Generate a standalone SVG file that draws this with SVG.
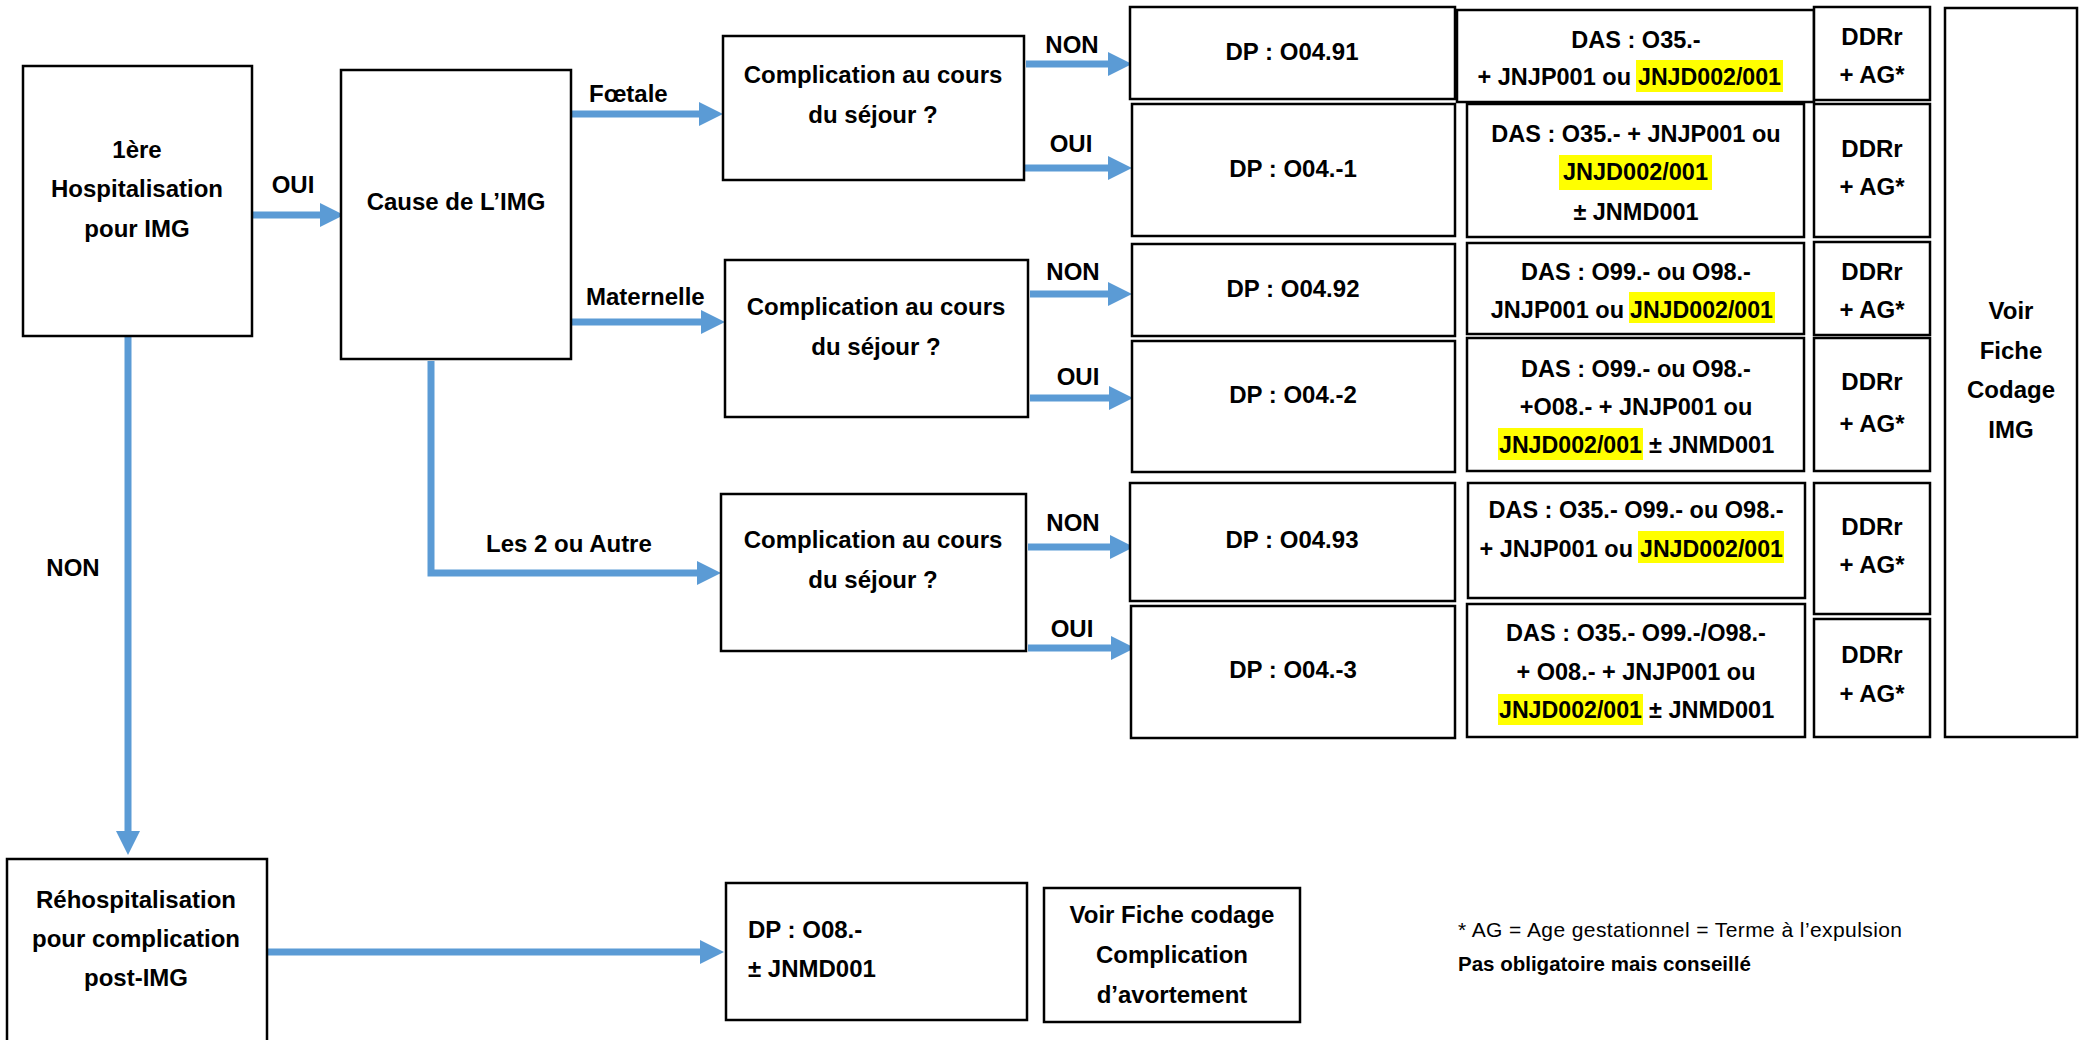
<svg xmlns="http://www.w3.org/2000/svg" width="2083" height="1040" viewBox="0 0 2083 1040">
  <style>
    .t { font-family: "Liberation Sans", Arial, sans-serif; font-weight: bold; font-size: 24px; fill: #000; }
    .s { font-size: 23.5px; }
    .c { text-anchor: middle; }
    .e { text-anchor: end; }
    .box { fill: #fff; stroke: #000; stroke-width: 2.5; }
    .hl { fill: #ffff00; }
    .arr { fill: none; stroke: #5b9bd5; stroke-width: 7; stroke-linejoin: miter; }
    .note { font-family: "Liberation Sans", Arial, sans-serif; font-size: 21px; fill: #000; }
    .noteb { font-family: "Liberation Sans", Arial, sans-serif; font-size: 20.5px; font-weight: bold; fill: #000; }
  </style>
  <defs>
    <marker id="head" markerUnits="userSpaceOnUse" markerWidth="24" markerHeight="24" refX="0" refY="12" orient="auto">
      <path d="M0,0 L24,12 L0,24 Z" fill="#5b9bd5"/>
    </marker>
  </defs>
  <rect width="2083" height="1040" fill="#fff"/>

  <!-- connectors -->
  <g id="connectors">
    <path class="arr" marker-end="url(#head)" d="M251,215 H320"/>
    <path class="arr" marker-end="url(#head)" d="M572,114 H699"/>
    <path class="arr" marker-end="url(#head)" d="M572,322 H701"/>
    <path class="arr" marker-end="url(#head)" d="M431,361 V573 H697"/>
    <path class="arr" marker-end="url(#head)" d="M128,336 V831"/>
    <path class="arr" marker-end="url(#head)" d="M267,952 H700"/>
    <path class="arr" marker-end="url(#head)" d="M1026,64 H1108"/>
    <path class="arr" marker-end="url(#head)" d="M1025,168 H1108"/>
    <path class="arr" marker-end="url(#head)" d="M1030,294 H1108"/>
    <path class="arr" marker-end="url(#head)" d="M1030,398 H1109"/>
    <path class="arr" marker-end="url(#head)" d="M1028,547 H1110"/>
    <path class="arr" marker-end="url(#head)" d="M1028,648 H1111"/>

    <text class="t c" x="293" y="193">OUI</text>
    <text class="t" x="589" y="102">Fœtale</text>
    <text class="t" x="586" y="305">Maternelle</text>
    <text class="t" x="486" y="552">Les 2 ou Autre</text>
    <text class="t c" x="73" y="576">NON</text>
    <text class="t c" x="1072" y="53">NON</text>
    <text class="t c" x="1071" y="152">OUI</text>
    <text class="t c" x="1073" y="280">NON</text>
    <text class="t c" x="1078" y="385">OUI</text>
    <text class="t c" x="1073" y="531">NON</text>
    <text class="t c" x="1072" y="637">OUI</text>
  </g>

  <!-- first stay -->
  <g id="n-hosp">
    <rect class="box" x="23" y="66" width="229" height="270"/>
    <text class="t c" x="137" y="158">1ère</text>
    <text class="t c" x="137" y="197">Hospitalisation</text>
    <text class="t c" x="137" y="237">pour IMG</text>
  </g>

  <g id="n-cause">
    <rect class="box" x="341" y="70" width="230" height="289"/>
    <text class="t c" x="456" y="210">Cause de L’IMG</text>
  </g>

  <!-- complication questions -->
  <g id="n-comp1">
    <rect class="box" x="723" y="36" width="301" height="144"/>
    <text class="t c" x="873" y="83">Complication au cours</text>
    <text class="t c" x="873" y="123">du séjour ?</text>
  </g>
  <g id="n-comp2">
    <rect class="box" x="725" y="260" width="303" height="157"/>
    <text class="t c" x="876" y="315">Complication au cours</text>
    <text class="t c" x="876" y="355">du séjour ?</text>
  </g>
  <g id="n-comp3">
    <rect class="box" x="721" y="494" width="305" height="157"/>
    <text class="t c" x="873" y="548">Complication au cours</text>
    <text class="t c" x="873" y="588">du séjour ?</text>
  </g>

  <!-- principal diagnoses -->
  <g id="n-dp1">
    <rect class="box" x="1130" y="7" width="325" height="92"/>
    <text class="t c" x="1292" y="60">DP : O04.91</text>
  </g>
  <g id="n-dp2">
    <rect class="box" x="1132" y="104" width="323" height="132"/>
    <text class="t c" x="1293" y="177">DP : O04.-1</text>
  </g>
  <g id="n-dp3">
    <rect class="box" x="1132" y="244" width="323" height="92"/>
    <text class="t c" x="1293" y="297">DP : O04.92</text>
  </g>
  <g id="n-dp4">
    <rect class="box" x="1132" y="341" width="323" height="131"/>
    <text class="t c" x="1293" y="403">DP : O04.-2</text>
  </g>
  <g id="n-dp5">
    <rect class="box" x="1130" y="483" width="325" height="118"/>
    <text class="t c" x="1292" y="548">DP : O04.93</text>
  </g>
  <g id="n-dp6">
    <rect class="box" x="1131" y="606" width="324" height="132"/>
    <text class="t c" x="1293" y="678">DP : O04.-3</text>
  </g>

  <!-- associated diagnoses and acts -->
  <g id="n-das1">
    <rect class="box" x="1457" y="10" width="357" height="92"/>
    <text class="t s c" x="1636" y="48">DAS : O35.-</text>
    <rect class="hl" x="1636" y="60" width="147" height="32"/>
    <text class="t s e" x="1631" y="85">+ JNJP001 ou</text>
    <text class="t s" x="1638" y="85" textLength="143" lengthAdjust="spacingAndGlyphs">JNJD002/001</text>
  </g>
  <g id="n-das2">
    <rect class="box" x="1467" y="104" width="337" height="133"/>
    <text class="t s c" x="1636" y="142">DAS : O35.- + JNJP001 ou</text>
    <rect class="hl" x="1559" y="155" width="153" height="35"/>
    <text class="t s" x="1563" y="180" textLength="145" lengthAdjust="spacingAndGlyphs">JNJD002/001</text>
    <text class="t s c" x="1636" y="220">± JNMD001</text>
  </g>
  <g id="n-das3">
    <rect class="box" x="1467" y="243" width="337" height="91"/>
    <text class="t s c" x="1636" y="280">DAS : O99.- ou O98.-</text>
    <rect class="hl" x="1629" y="292" width="146" height="31"/>
    <text class="t s e" x="1624" y="318">JNJP001 ou</text>
    <text class="t s" x="1630" y="318" textLength="143" lengthAdjust="spacingAndGlyphs">JNJD002/001</text>
  </g>
  <g id="n-das4">
    <rect class="box" x="1467" y="338" width="337" height="133"/>
    <text class="t s c" x="1636" y="377">DAS : O99.- ou O98.-</text>
    <text class="t s c" x="1636" y="415">+O08.- + JNJP001 ou</text>
    <rect class="hl" x="1498" y="428" width="145" height="32"/>
    <text class="t s" x="1499" y="453" textLength="143" lengthAdjust="spacingAndGlyphs">JNJD002/001</text>
    <text class="t s" x="1649" y="453">± JNMD001</text>
  </g>
  <g id="n-das5">
    <rect class="box" x="1468" y="483" width="337" height="115"/>
    <text class="t s c" x="1636" y="518">DAS : O35.- O99.- ou O98.-</text>
    <rect class="hl" x="1638" y="531" width="146" height="32"/>
    <text class="t s e" x="1633" y="557">+ JNJP001 ou</text>
    <text class="t s" x="1640" y="557" textLength="143" lengthAdjust="spacingAndGlyphs">JNJD002/001</text>
  </g>
  <g id="n-das6">
    <rect class="box" x="1467" y="604" width="338" height="133"/>
    <text class="t s c" x="1636" y="641">DAS : O35.- O99.-/O98.-</text>
    <text class="t s c" x="1636" y="680">+ O08.- + JNJP001 ou</text>
    <rect class="hl" x="1498" y="694" width="145" height="31"/>
    <text class="t s" x="1499" y="718" textLength="143" lengthAdjust="spacingAndGlyphs">JNJD002/001</text>
    <text class="t s" x="1649" y="718">± JNMD001</text>
  </g>

  <!-- DDRr + AG -->
  <g id="n-ddr1">
    <rect class="box" x="1814" y="7" width="116" height="93"/>
    <text class="t c" x="1872" y="45">DDRr</text>
    <text class="t c" x="1872" y="83">+ AG*</text>
  </g>
  <g id="n-ddr2">
    <rect class="box" x="1814" y="104" width="116" height="133"/>
    <text class="t c" x="1872" y="157">DDRr</text>
    <text class="t c" x="1872" y="195">+ AG*</text>
  </g>
  <g id="n-ddr3">
    <rect class="box" x="1814" y="242" width="116" height="93"/>
    <text class="t c" x="1872" y="280">DDRr</text>
    <text class="t c" x="1872" y="318">+ AG*</text>
  </g>
  <g id="n-ddr4">
    <rect class="box" x="1814" y="338" width="116" height="133"/>
    <text class="t c" x="1872" y="390">DDRr</text>
    <text class="t c" x="1872" y="432">+ AG*</text>
  </g>
  <g id="n-ddr5">
    <rect class="box" x="1814" y="483" width="116" height="131"/>
    <text class="t c" x="1872" y="535">DDRr</text>
    <text class="t c" x="1872" y="573">+ AG*</text>
  </g>
  <g id="n-ddr6">
    <rect class="box" x="1814" y="619" width="116" height="118"/>
    <text class="t c" x="1872" y="663">DDRr</text>
    <text class="t c" x="1872" y="702">+ AG*</text>
  </g>

  <g id="n-fiche-img">
    <rect class="box" x="1945" y="8" width="132" height="729"/>
    <text class="t c" x="2011" y="319">Voir</text>
    <text class="t c" x="2011" y="359">Fiche</text>
    <text class="t c" x="2011" y="398">Codage</text>
    <text class="t c" x="2011" y="438">IMG</text>
  </g>

  <!-- readmission branch -->
  <g id="n-rehosp">
    <rect class="box" x="7" y="859" width="260" height="200"/>
    <text class="t c" x="136" y="908">Réhospitalisation</text>
    <text class="t c" x="136" y="947">pour complication</text>
    <text class="t c" x="136" y="986">post-IMG</text>
  </g>
  <g id="n-dp-o08">
    <rect class="box" x="726" y="883" width="301" height="137"/>
    <text class="t" x="748" y="938">DP : O08.-</text>
    <text class="t" x="748" y="977">± JNMD001</text>
  </g>
  <g id="n-fiche-avort">
    <rect class="box" x="1044" y="888" width="256" height="134"/>
    <text class="t c" x="1172" y="923">Voir Fiche codage</text>
    <text class="t c" x="1172" y="963">Complication</text>
    <text class="t c" x="1172" y="1003">d’avortement</text>
  </g>

  <!-- footnote -->
  <g id="footnote">
    <text class="note" x="1458" y="937" textLength="444" lengthAdjust="spacing">* AG = Age gestationnel = Terme à l’expulsion</text>
    <text class="noteb" x="1458" y="971">Pas obligatoire mais conseillé</text>
  </g>
</svg>
